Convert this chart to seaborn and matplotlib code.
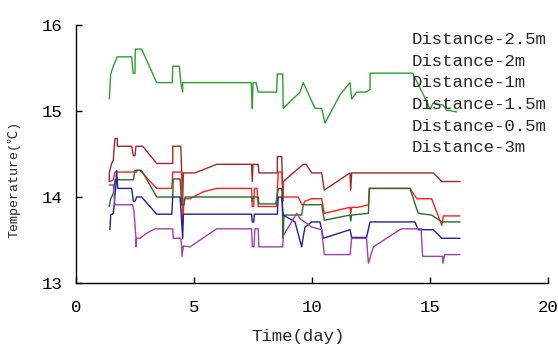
import numpy as np
import pandas as pd
import matplotlib
matplotlib.use("Agg")
import matplotlib.pyplot as plt
import seaborn as sns

series_names = ["Distance-2.5m", "Distance-2m", "Distance-1m",
                "Distance-1.5m", "Distance-0.5m", "Distance-3m"]
colors = ["#2ca02c", "#a02828", "#ff2020", "#2a6a2a", "#2020a0", "#a040a8"]

t_25 = [1.41, 1.44, 1.47, 1.58, 1.75, 2.36, 2.42, 2.50, 2.51, 2.78, 3.42, 4.08, 4.10, 4.38, 4.44, 4.52, 4.52,
        7.42, 7.46, 7.47, 7.50, 7.63, 7.72, 8.50, 8.53, 8.76, 8.78, 9.49, 9.63, 10.13, 10.41, 10.55, 11.19,
        11.61, 11.68, 11.89, 12.29, 12.46, 12.46, 14.27, 14.86, 15.00, 15.13, 15.55, 15.71, 16.13]
T_25 = [15.14, 15.28, 15.43, 15.52, 15.63, 15.63, 15.44, 15.44, 15.72, 15.72, 15.33, 15.33, 15.52, 15.52, 15.33, 15.22, 15.33,
        15.33, 15.13, 15.03, 15.33, 15.33, 15.22, 15.22, 15.43, 15.43, 15.03, 15.22, 15.33, 15.03, 15.03, 14.86, 15.19,
        15.33, 15.14, 15.22, 15.22, 15.25, 15.44, 15.44, 15.11, 15.02, 15.09, 15.07, 15.01, 14.99]

t_2 = [1.41, 1.41, 1.51, 1.58, 1.61, 1.65, 1.75, 1.75, 2.36, 2.43, 2.50, 2.54, 2.83, 3.42, 4.10, 4.10, 4.44, 4.48,
       4.52, 4.55, 5.04, 5.96, 7.44, 7.47, 7.50, 7.72, 7.75, 8.53, 8.53, 8.72, 8.76, 8.78, 9.63, 9.75, 9.99, 10.41,
       10.52, 11.61, 11.64, 11.68, 15.14, 15.50, 16.27]
T_2 = [14.18, 14.28, 14.39, 14.43, 14.55, 14.68, 14.68, 14.59, 14.59, 14.48, 14.48, 14.59, 14.59, 14.39, 14.39, 14.59, 14.59, 14.28,
       13.95, 14.28, 14.28, 14.38, 14.38, 14.18, 14.38, 14.38, 14.28, 14.28, 14.47, 14.47, 13.95, 14.18, 14.38, 14.38, 14.28, 14.28,
       14.08, 14.28, 14.08, 14.28, 14.28, 14.18, 14.18]

t_1 = [1.44, 1.58, 1.65, 2.57, 2.57, 2.71, 3.42, 4.06, 4.10, 4.41, 4.48, 4.52, 4.58, 4.83, 5.39, 5.96, 7.44, 7.47,
       7.53, 7.56, 7.67, 7.72, 8.43, 8.50, 8.57, 8.72, 8.78, 9.42, 9.57, 9.63, 9.70, 9.99, 10.41, 10.52, 11.61, 11.64,
       11.68, 11.96, 12.39, 12.43, 14.15, 14.44, 15.07, 15.50, 15.57, 16.27]
T_1 = [14.18, 14.20, 14.29, 14.29, 14.31, 14.31, 14.10, 14.10, 14.29, 14.29, 14.29, 13.69, 13.98, 13.98, 14.06, 14.10, 14.10, 13.89,
       13.89, 14.10, 14.10, 13.89, 13.89, 13.89, 14.29, 14.29, 14.00, 14.00, 13.91, 13.91, 13.95, 13.98, 13.98, 13.81, 13.88, 13.81,
       13.88, 13.88, 13.91, 14.10, 14.10, 13.98, 13.98, 13.67, 13.78, 13.78]

t_15 = [1.41, 1.47, 1.58, 1.65, 2.36, 2.43, 2.50, 2.78, 3.42, 4.10, 4.12, 4.41, 4.48, 4.58, 4.62, 7.44, 7.47, 7.51,
        7.72, 7.75, 8.47, 8.57, 8.72, 8.78, 8.81, 9.56, 9.63, 10.41, 10.52, 11.61, 11.64, 11.68, 12.39, 12.43, 14.15,
        14.50, 15.07, 15.50, 16.27]
T_15 = [13.89, 13.98, 14.04, 14.20, 14.20, 14.20, 14.31, 14.31, 14.00, 14.00, 14.21, 14.21, 13.91, 13.91, 14.00, 14.00, 13.95, 14.00,
        14.00, 13.92, 13.92, 14.10, 14.10, 13.52, 13.79, 13.79, 13.91, 13.91, 13.73, 13.79, 13.72, 13.79, 13.81, 14.10, 14.10,
        13.81, 13.79, 13.71, 13.71]

t_05 = [1.44, 1.47, 1.58, 1.68, 1.72, 1.77, 2.36, 2.43, 2.50, 2.57, 2.78, 3.42, 4.06, 4.10, 4.41, 4.52, 4.55, 7.44,
        7.47, 7.53, 7.56, 8.53, 8.57, 8.72, 8.78, 9.28, 9.56, 9.70, 9.99, 10.34, 10.48, 11.61, 11.68, 12.31, 12.46,
        14.36, 14.50, 15.14, 15.50, 16.27]
T_05 = [13.62, 13.79, 13.81, 14.10, 14.31, 14.10, 14.10, 13.95, 13.95, 14.00, 14.00, 13.80, 13.80, 14.00, 14.00, 13.52, 13.80, 13.80,
        13.71, 13.71, 13.80, 13.80, 14.00, 14.00, 13.79, 13.71, 13.42, 13.65, 13.71, 13.71, 13.52, 13.62, 13.53, 13.53, 13.71,
        13.71, 13.62, 13.62, 13.52, 13.52]

t_3 = [1.41, 1.58, 1.65, 2.40, 2.46, 2.54, 2.54, 2.57, 2.71, 3.00, 3.35, 4.10, 4.12, 4.44, 4.48, 4.49, 4.55, 4.83,
       5.96, 7.44, 7.47, 7.54, 7.58, 7.72, 7.75, 8.76, 8.78, 9.35, 9.49, 9.99, 10.41, 10.52, 11.61, 11.68, 12.31,
       12.39, 12.60, 13.78, 14.62, 14.69, 15.54, 15.55, 15.62, 16.27]
T_3 = [14.14, 14.14, 13.91, 13.91, 13.83, 13.52, 13.42, 13.52, 13.52, 13.58, 13.63, 13.63, 13.52, 13.52, 13.42, 13.31, 13.43, 13.42,
       13.63, 13.63, 13.42, 13.42, 13.63, 13.63, 13.42, 13.42, 13.55, 13.81, 13.75, 13.65, 13.62, 13.33, 13.33, 13.52, 13.52,
       13.23, 13.42, 13.63, 13.63, 13.31, 13.31, 13.23, 13.33, 13.33]

frames = []
for name, tt, TT in zip(series_names,
                        [t_25, t_2, t_1, t_15, t_05, t_3],
                        [T_25, T_2, T_1, T_15, T_05, T_3]):
    frames.append(pd.DataFrame({"t": tt, "T": TT, "series": name}))
df = pd.concat(frames, ignore_index=True)

sns.set_style("ticks")
plt.rcParams["font.family"] = ["Liberation Mono", "Noto Sans CJK SC", "DejaVu Sans"]

fig = plt.figure(figsize=(5.58, 3.47), dpi=100)
ax = fig.add_axes([76 / 558, 1 - 283 / 347, 472 / 558, 258 / 347])

sns.lineplot(data=df, x="t", y="T", hue="series", hue_order=series_names,
             palette=colors, sort=False, estimator=None, units="series",
             linewidth=1.0, ax=ax, legend=False)

ax.set_xlim(0, 20)
ax.set_ylim(13, 16)
ax.set_xticks([0, 5, 10, 15, 20])
ax.set_yticks([13, 14, 15, 16])
ax.tick_params(direction="in", length=4, width=1, colors="black", labelsize=12.5)
ax.tick_params(axis="x", pad=12)
ax.tick_params(axis="y", pad=10)
for s in ["top", "right"]:
    ax.spines[s].set_visible(False)
for s in ["left", "bottom"]:
    ax.spines[s].set_color("black")
    ax.spines[s].set_linewidth(1.0)

ax.set_xlabel("Time(day)", fontsize=12.5)
ax.set_ylabel("Temperature(℃)", fontsize=9.5)
ax.xaxis.set_label_coords(0.470, -0.178)
ax.yaxis.set_label_coords(-0.118, 0.403)

handles = [plt.Line2D([], [], color=c) for c in colors]
leg = ax.legend(handles, series_names, loc="upper left",
                bbox_to_anchor=(412 / 558, 1 - 32 / 347), bbox_transform=fig.transFigure,
                frameon=False, handlelength=0, handletextpad=0, borderpad=0,
                borderaxespad=0, labelspacing=0.375, fontsize=12.5)
for h in leg.legend_handles:
    h.set_visible(False)

fig.savefig("out.png", dpi=100)
